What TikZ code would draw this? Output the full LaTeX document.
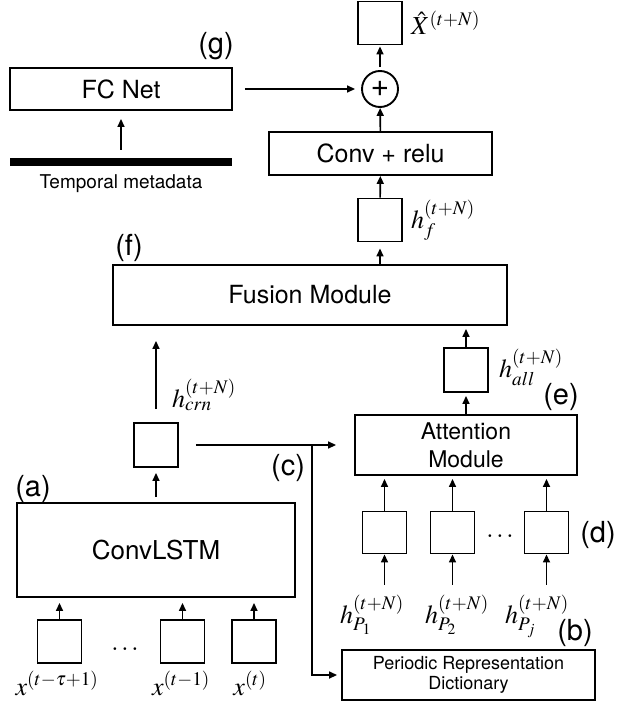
\documentclass[tikz,border=0pt]{standalone}
\usepackage{mathptmx}
\usepackage{fontspec}
\setsansfont{TeX Gyre Heros}
\usetikzlibrary{arrows.meta}

\tikzset{
  box/.style={draw, line width=1.9pt, inner sep=0pt, align=center,
    font=\sffamily\fontsize{25}{30}\selectfont},
  sq/.style={draw, line width=1.9pt, minimum width=44pt, minimum height=43pt, inner sep=0pt},
  arr/.style={line width=1.6pt, -{Triangle[length=8pt,width=7pt]}},
  tag/.style={font=\sffamily\fontsize{29}{32}\selectfont, inner sep=0pt},
  mlabel/.style={font=\fontsize{26}{30}\selectfont, inner sep=0pt},
}

\begin{document}
\begin{tikzpicture}[x=1pt, y=-1pt]
\useasboundingbox (0,0) rectangle (619,709);

% ---- output branch ----
\node[box, minimum width=222pt, minimum height=42pt] (fc) at (121,89) {FC Net};
\node[fill=black, minimum width=222pt, minimum height=8pt, inner sep=0pt] (meta) at (121,162) {};
\node[font=\sffamily\fontsize{19}{22}\selectfont, inner sep=0pt, anchor=base] (metalbl) at (121,188) {Temporal metadata};
\node[tag] (tg) at (216,46) {(g)};

\node[circle, draw, line width=1.9pt, minimum size=36pt, inner sep=0pt,
      font=\sffamily\fontsize{32}{34}\selectfont] (plus) at (380,89) {+};
\node[sq] (xhat) at (380,23) {};
\node[mlabel, anchor=base west] (xhatlbl) at (411,35) {$\hat{X}^{(t+N)}$};

\node[box, minimum width=223pt, minimum height=43pt] (conv) at (380.5,153.5) {Conv + relu};
\node[sq] (hf) at (380,220) {};
\node[mlabel, anchor=base west] (hflbl) at (411,228) {$h_{f}^{(t+N)}$};

% ---- fusion ----
\node[box, minimum width=394pt, minimum height=60pt] (fusion) at (310,295) {Fusion Module};
\node[tag] (tf) at (129,248) {(f)};

\node[sq, minimum height=44pt] (hall) at (466,370) {};
\node[mlabel, anchor=base west] (halllbl) at (499,377) {$h_{all}^{(t+N)}$};
\node[tag] (te) at (561,397) {(e)};

\node[box, minimum width=222pt, minimum height=60pt,
      font=\sffamily\fontsize{23}{28}\selectfont] (att) at (466,445) {Attention\\Module};

% ---- closeness branch ----
\node[sq, minimum height=44pt] (crn) at (156,445) {};
\node[mlabel, anchor=base west] (crnlbl) at (172,407) {$h_{crn}^{(t+N)}$};
\node[tag] (tc) at (288,468) {(c)};

\node[box, minimum width=278pt, minimum height=94pt,
      font=\sffamily\fontsize{26}{30}\selectfont] (lstm) at (156,550) {ConvLSTM};
\node[tag] (ta) at (33,489) {(a)};

\node[sq] (x1) at (59.5,641.5) {};
\node[sq] (x2) at (182.5,641.5) {};
\node[sq] (x3) at (254,641.5) {};
\node[mlabel, anchor=base] (dotsx) at (125,650) {$\dots$};
\node[mlabel, anchor=base] (x1lbl) at (57,695) {$x^{(t-\tau+1)}$};
\node[mlabel, anchor=base] (x2lbl) at (181,695) {$x^{(t-1)}$};
\node[mlabel, anchor=base] (x3lbl) at (250,695) {$x^{(t)}$};

% ---- periodic branch ----
\node[box, minimum width=253pt, minimum height=50pt,
      font=\sffamily\fontsize{18}{20}\selectfont] (prd) at (468.5,675) {Periodic Representation\\Dictionary};
\node[tag] (tb) at (575,633) {(b)};

\node[sq, minimum height=42pt] (d1) at (384.5,532.5) {};
\node[sq, minimum height=42pt] (d2) at (452.5,532.5) {};
\node[sq, minimum height=42pt] (d3) at (546.5,532.5) {};
\node[mlabel, anchor=base] (dotsd) at (500,537) {$\dots$};
\node[tag] (td) at (598,535) {(d)};

\node[mlabel, anchor=base west] (hp1) at (340,623) {$h_{P_1}^{(t+N)}$};
\node[mlabel, anchor=base west] (hp2) at (425,623) {$h_{P_2}^{(t+N)}$};
\node[mlabel, anchor=base west] (hp3) at (505,623) {$h_{P_j}^{(t+N)}$};

% ---- connectors ----
\draw[arr, shorten <=8pt, shorten >=8pt] (meta) -- (fc);
\draw[arr, shorten <=12pt, shorten >=6pt] (fc) -- (plus);
\draw[arr, shorten <=3pt, shorten >=1pt] (plus) -- (xhat);
\draw[arr] (conv) -- (plus);
\draw[arr] (hf) -- (conv);
\draw[arr, shorten >=6pt] (fusion.north -| hf) -- (hf);
\draw[arr, shorten >=3pt] (hall) -- (hall |- fusion.south);
\draw[arr, shorten >=3pt] (att) -- (hall);
\draw[arr, shorten <=13pt, shorten >=15pt] (crn) -- (crn |- fusion.south);
\draw[arr, shorten <=5pt, shorten >=5pt] (lstm) -- (crn);
\draw[arr, shorten <=17pt, shorten >=18pt] (crn) -- (att);
\coordinate (br) at (312,445);
\draw[arr, shorten >=4pt] (br) |- (prd.west);

\foreach \b in {x1,x2,x3}
  \draw[arr, shorten >=5pt] (\b) -- (\b |- lstm.south);
\foreach \b in {d1,d2,d3}
  \draw[arr, shorten >=3pt] (\b) -- (\b |- att.south);
\draw[arr, shorten <=10pt] (d1 |- hp1.north) -- (d1);
\draw[arr, shorten <=10pt] (d2 |- hp2.north) -- (d2);
\draw[arr, shorten <=10pt] (d3 |- hp3.north) -- (d3);
\end{tikzpicture}
\end{document}
